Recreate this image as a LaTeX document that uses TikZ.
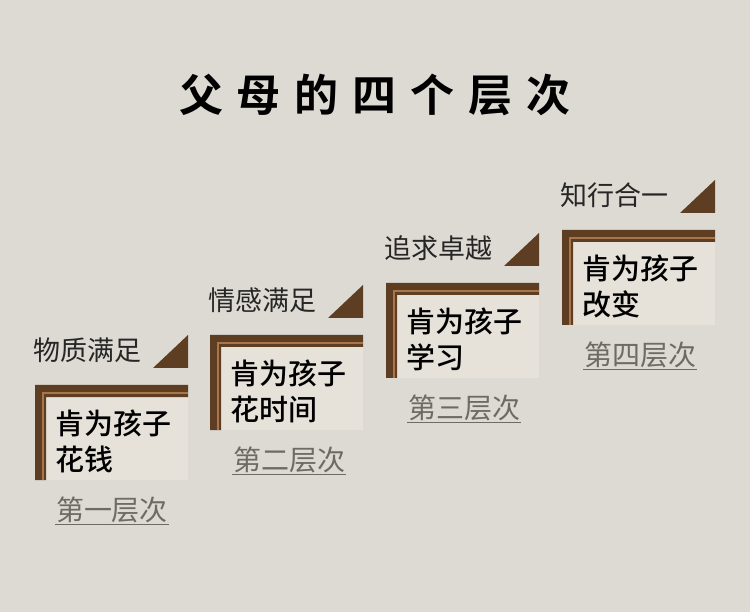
\documentclass[tikz,border=0pt]{standalone}
\usepackage{fontspec}
\newfontfamily\cjk{Noto Sans CJK SC}
\newfontfamily\cjkm{Noto Sans CJK SC Medium}
\newfontfamily\cjkb{Noto Sans CJK SC Bold}
\definecolor{bg}{HTML}{DCDAD3}
\definecolor{brn}{HTML}{5E3E22}
\definecolor{brl}{HTML}{A8764A}
\definecolor{cream}{HTML}{E6E2DA}
\definecolor{lvl}{HTML}{6E6A66}
\tikzset{
 lbl/.style={anchor=west,font=\cjk\fontsize{27}{29}\selectfont,text=black!85,inner sep=0pt},
 body/.style={anchor=north west,align=left,font=\cjkm\fontsize{29}{36}\selectfont,text=black,inner sep=0pt}
}
\newcommand{\stepdraw}[5]{%
 \fill[cream] (#1+11,#2+11) rectangle (#1+153,#2+95);
 \fill[brn] (#1,#2) -- (#1+153,#2) -- (#1+153,#2+12) -- (#1+11,#2+12) -- (#1+11,#2+95) -- (#1,#2+95) -- cycle;
 \draw[brl,line width=2.5] (#1+8,#2+95) -- (#1+8,#2+8) -- (#1+153,#2+8);
 \fill[brn] (#1+118,#2-17) -- (#1+153,#2-17) -- (#1+153,#2-50) -- cycle;
 \node[lbl] (l#5) at (#1-2,#2-35) {#3};
 \node[body] (b#5) at (#1+20,#2+25) {#4};
}
\begin{document}
\begin{tikzpicture}[x=1pt,y=-1pt]
\fill[bg] (0,0) rectangle (750,612);
\useasboundingbox (0,0) rectangle (750,612);
\node[font=\cjkb\fontsize{44}{48}\selectfont] (title) at (375,95) {父\hspace{14pt}母\hspace{14pt}的\hspace{14pt}四\hspace{14pt}个\hspace{14pt}层\hspace{14pt}次};
\stepdraw{35}{385}{物质满足}{肯为孩子\\花钱}{1}
\stepdraw{210}{335}{情感满足}{肯为孩子\\花时间}{2}
\stepdraw{386}{283}{追求卓越}{肯为孩子\\学习}{3}
\stepdraw{562}{230}{知行合一}{肯为孩子\\改变}{4}
\foreach \n/\x/\y/\t in {1/112/510/第一层次,2/289/460/第二层次,3/464/408/第三层次,4/640/355/第四层次}{
 \node[font=\cjk\fontsize{28}{30}\selectfont,text=lvl,inner sep=1pt] (v\n) at (\x,\y) {\t};
 \draw[lvl,line width=1.2] (v\n.south west) -- (v\n.south east);
}
\end{tikzpicture}
\end{document}
